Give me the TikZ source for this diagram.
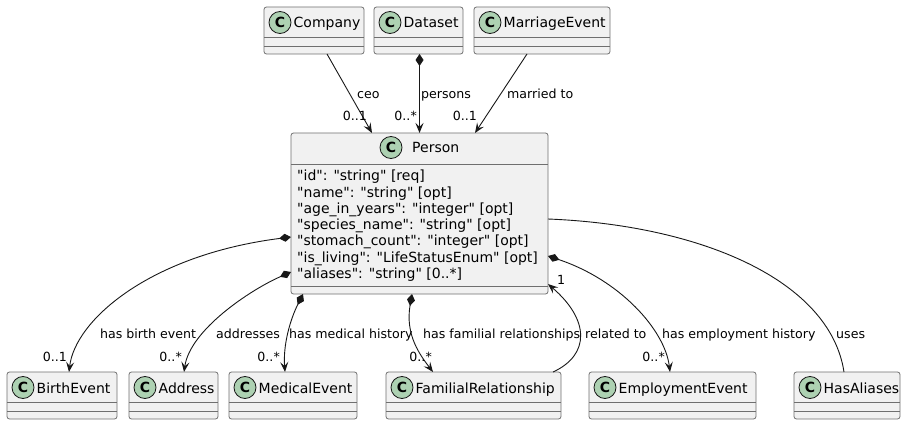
\documentclass[tikz,border=0pt]{standalone}
\usepackage{fontspec}
\setmainfont{DejaVu Sans}[Ligatures=TeXOff]
\usetikzlibrary{arrows.meta,calc}
\definecolor{boxfill}{HTML}{F1F1F1}
\definecolor{lineclr}{HTML}{181818}
\definecolor{boxline}{HTML}{6F6F6F}
\definecolor{circfill}{HTML}{ADD1B2}
\tikzset{
  classbox/.style={draw=boxline, fill=boxfill, line width=0.8pt, rounded corners=2.5pt, inner sep=0pt, outer sep=0pt, anchor=north west},
  ccirc/.style={circle, draw=lineclr, fill=circfill, line width=0.8pt, minimum size=22pt, inner sep=0pt, font=\fontsize{14}{14}\selectfont\bfseries},
  ctitle/.style={anchor=base west, inner sep=0pt, font=\fontsize{14}{16}\selectfont},
  attr/.style={anchor=base west, inner sep=0pt, font=\fontsize{14}{16}\selectfont},
  divider/.style={draw=boxline, line width=0.8pt},
  conn/.style={draw=lineclr, line width=0.9pt},
  lbl/.style={anchor=base west, inner sep=0pt, font=\fontsize{12.6}{15}\selectfont},
  mult/.style={anchor=base east, inner sep=0pt, font=\fontsize{12.6}{15}\selectfont},
  arr/.style={-{Stealth[length=10pt,width=8pt,inset=4pt]}},
  comp/.style={{Diamond[length=12pt,width=8pt]}-{Stealth[length=10pt,width=8pt,inset=4pt]}},
}
\newcommand\umlclass[5]{%
  \node[classbox, minimum width=#4pt, minimum height=47pt] (#1) at (#2,#3) {};
  \node[ccirc] (#1c) at ($(#1.north west)+(16,15.5)$) {C};
  \node[ctitle] (#1t) at ($(#1.north west)+(29.5,21)$) {#5};
  \draw[divider] ($(#1.north west)+(0,30)$) -- ($(#1.north east)+(0,30)$);
  \draw[divider] ($(#1.north west)+(0,39)$) -- ($(#1.north east)+(0,39)$);
}
\begin{document}
\begin{tikzpicture}[x=1pt,y=-1pt]
\useasboundingbox (0,0) rectangle (906,425);
% top classes
\umlclass{company}{264}{7}{100}{Company}
\umlclass{dataset}{374}{7}{89}{Dataset}
\umlclass{marriageevent}{474}{7}{136}{MarriageEvent}
% bottom classes
\umlclass{birthevent}{7}{372}{110}{BirthEvent}
\umlclass{address}{129}{372}{89}{Address}
\umlclass{medicalevent}{229}{372}{128}{MedicalEvent}
\umlclass{familialrelationship}{386}{372}{175}{FamilialRelationship}
\umlclass{employmentevent}{589}{372}{167}{EmploymentEvent}
\umlclass{hasaliases}{794}{372}{106}{HasAliases}
% Person
\node[classbox, minimum width=257pt, minimum height=161pt] (person) at (291,133) {};
\node[ccirc] (personc) at (391,147.5) {C};
\node[ctitle] (persont) at (412,153) {Person};
\draw[divider] ($(person.north west)+(0,31)$) -- ($(person.north east)+(0,31)$);
\draw[divider] ($(person.south west)+(0,-8)$) -- ($(person.south east)+(0,-8)$);
\node[attr] (a1) at (297,181) {"id": "string" [req]};
\node[attr] (a2) at (297,197.2) {"name": "string" [opt]};
\node[attr] (a3) at (297,213.4) {"age\_in\_years": "integer" [opt]};
\node[attr] (a4) at (297,229.6) {"species\_name": "string" [opt]};
\node[attr] (a5) at (297,245.8) {"stomach\_count": "integer" [opt]};
\node[attr] (a6) at (297,262) {"is\_living": "LifeStatusEnum" [opt]};
\node[attr] (a7) at (297,278.2) {"aliases": "string" [0..*]};
% top connectors
\draw[conn, arr] ($(company.south)+(13,0)$) -- ($(person.north)+(-47.5,0)$);
\draw[conn, comp] ($(dataset.south)+(1,0)$) -- (person.north);
\draw[conn, arr] ($(marriageevent.south)+(-15,0)$) -- ($(person.north)+(55.5,0)$);
\node[lbl] (l1) at (357,98.5) {ceo};
\node[mult] (m1) at (367,121) {0..1};
\node[lbl] (l2) at (421,98.5) {persons};
\node[mult] (m2) at (417,121) {0..*};
\node[lbl] (l3) at (507,98.5) {married to};
\node[mult] (m3) at (477,121) {0..1};
% bottom connectors
\draw[conn, comp] ($(person.west)+(0,23.5)$) .. controls (150,255) and (75,320) .. ($(birthevent.north)+(7,0)$);
\draw[conn, comp] ($(person.west)+(0,58.5)$) .. controls (250,290) and (190,330) .. ($(address.north)+(10.5,0)$);
\draw[conn, comp] ($(person.south west)+(12,0)$) .. controls (290,320) and (283,345) .. ($(medicalevent.north)+(-8,0)$);
\draw[conn, comp] ($(person.south west)+(121,0)$) .. controls (405,335) and (420,355) .. ($(familialrelationship.north)+(-40.5,0)$);
\draw[conn, arr] ($(familialrelationship.north)+(79.5,0)$) .. controls (590,355) and (590,320) .. ($(person.south east)+(0,-10)$);
\draw[conn, comp] ($(person.east)+(0,42.5)$) .. controls (620,280) and (665,330) .. ($(employmentevent.north)+(-2.5,0)$);
\draw[conn] ($(person.east)+(0,5.5)$) .. controls (700,225) and (830,280) .. ($(hasaliases.north)+(-3,0)$);
% bottom labels
\node[lbl] (l4) at (100,338) {has birth event};
\node[lbl] (l5) at (216,338) {addresses};
\node[lbl] (l6) at (289,338) {has medical history};
\node[lbl] (l7) at (423,338) {has familial relationships};
\node[lbl] (l8) at (585,338) {related to};
\node[lbl] (l9) at (662,338) {has employment history};
\node[lbl] (l10) at (836,338) {uses};
\node[mult] (m4) at (67,361.5) {0..1};
\node[mult] (m5) at (182,361.5) {0..*};
\node[mult] (m6) at (280,361.5) {0..*};
\node[mult] (m7) at (432,361.5) {0..*};
\node[mult] (m8) at (665,361.5) {0..*};
\node[lbl] (m9) at (557,284) {1};
\end{tikzpicture}
\end{document}
